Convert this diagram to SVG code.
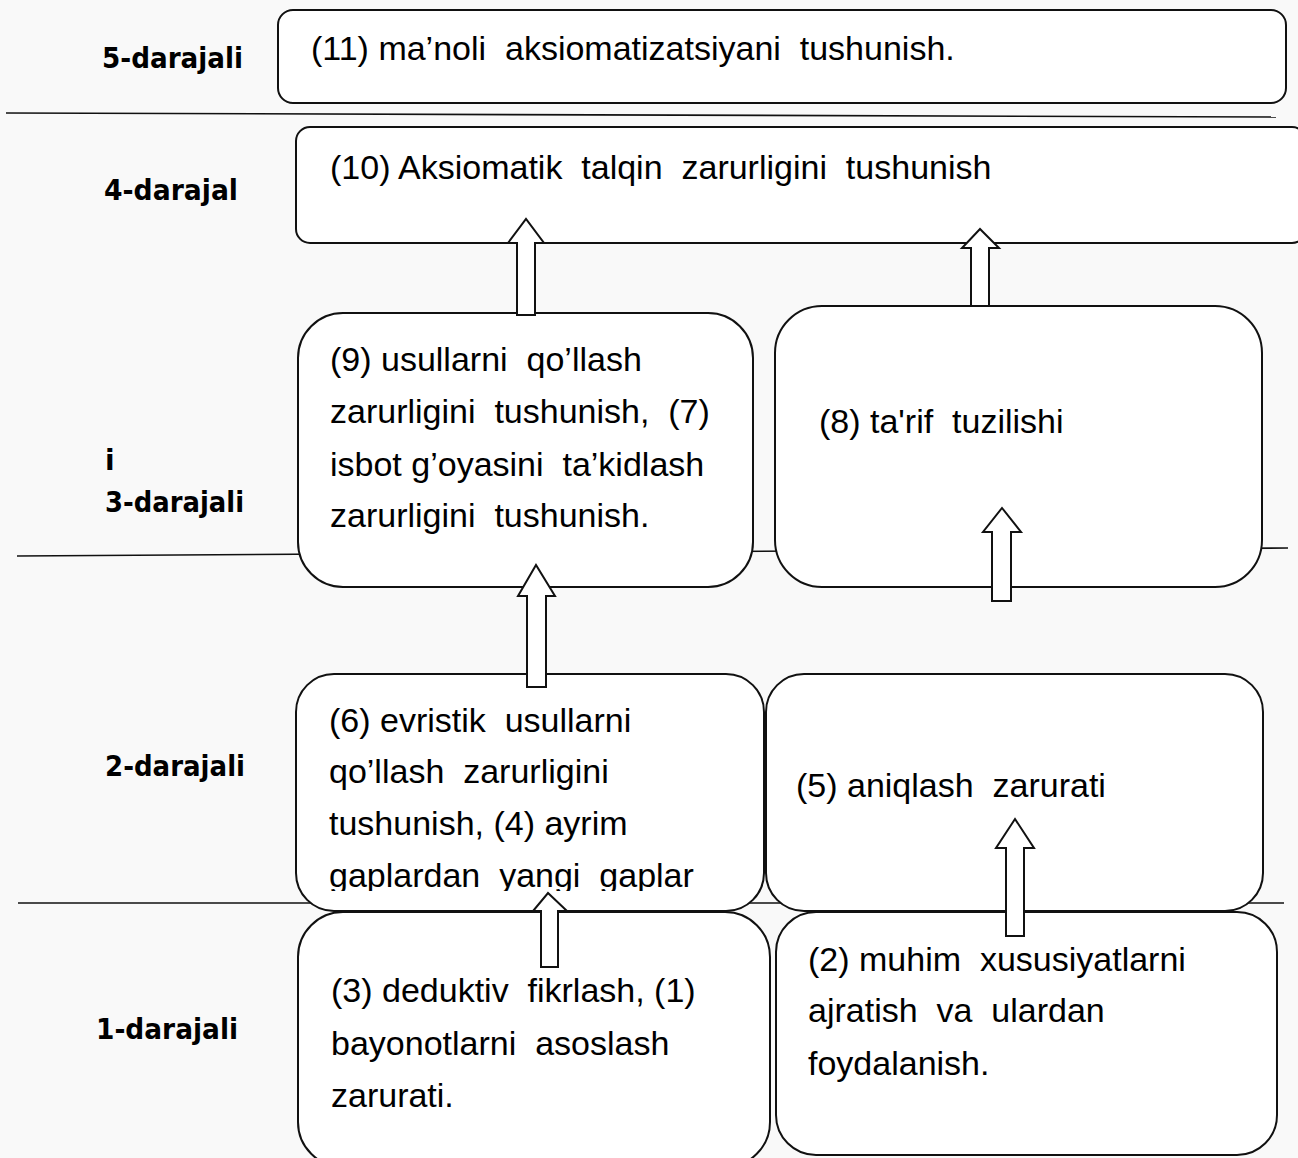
<svg xmlns="http://www.w3.org/2000/svg" width="1298" height="1158" viewBox="0 0 1298 1158">
<style>
.bg{fill:#f9f9f9}
.rule{stroke:#111;stroke-width:1.6;fill:none}
.box{fill:#fff;stroke:#111;stroke-width:2}
.arr{fill:#fff;stroke:#111;stroke-width:2;stroke-linejoin:miter}
.t{font-family:"Liberation Sans",Arial,sans-serif;font-size:34px;fill:#000;white-space:pre}
.lvl{font-family:"DejaVu Sans","Liberation Sans",sans-serif;font-weight:bold;font-size:28px;fill:#000}
</style>
<defs>
<clipPath id="clip6"><rect x="296" y="674" width="470" height="217"/></clipPath>
</defs>
<rect class="bg" x="0" y="0" width="1298" height="1158"/>
<g id="rules">
<line class="rule" x1="6" y1="113" x2="1276" y2="117"/>
<line class="rule" x1="17" y1="556" x2="1288" y2="548"/>
<line class="rule" x1="18" y1="903" x2="1284" y2="903"/>
</g>
<g id="levels">
<text class="lvl" x="102" y="68" textLength="141" lengthAdjust="spacingAndGlyphs">5-darajali</text>
<text class="lvl" x="104" y="200" textLength="134" lengthAdjust="spacingAndGlyphs">4-darajal</text>
<text class="lvl" x="105" y="470">i</text>
<text class="lvl" x="105" y="512" textLength="139" lengthAdjust="spacingAndGlyphs">3-darajali</text>
<text class="lvl" x="105" y="776" textLength="140" lengthAdjust="spacingAndGlyphs">2-darajali</text>
<text class="lvl" x="96" y="1039" textLength="142" lengthAdjust="spacingAndGlyphs">1-darajali</text>
</g>
<g id="node11">
<rect class="box" x="278" y="10" width="1008" height="93" rx="15"/>
<text class="t" x="311" y="60">(11) ma’noli  aksiomatizatsiyani  tushunish.</text>
</g>
<g id="node10">
<rect class="box" x="296" y="127" width="1010" height="116" rx="14"/>
<text class="t" x="330" y="179">(10) Aksiomatik  talqin  zarurligini  tushunish</text>
</g>
<g id="node9">
<rect class="box" x="298" y="313" width="455" height="274" rx="45"/>
<text class="t" x="330" y="371">(9) usullarni  qo’llash</text>
<text class="t" x="330" y="423">zarurligini  tushunish,  (7)</text>
<text class="t" x="330" y="476">isbot g’oyasini  ta’kidlash</text>
<text class="t" x="330" y="527">zarurligini  tushunish.</text>
</g>
<g id="node8">
<rect class="box" x="775" y="306" width="487" height="281" rx="47"/>
<text class="t" x="819" y="433">(8) ta'rif  tuzilishi</text>
</g>
<g id="node6">
<rect class="box" x="296" y="674" width="468" height="237" rx="38"/>
<g clip-path="url(#clip6)">
<text class="t" x="329" y="732">(6) evristik  usullarni</text>
<text class="t" x="329" y="783">qo’llash  zarurligini</text>
<text class="t" x="329" y="835">tushunish, (4) ayrim</text>
<text class="t" x="329" y="887">gaplardan  yangi  gaplar</text>
</g>
</g>
<g id="node5">
<rect class="box" x="766" y="674" width="497" height="237" rx="38"/>
<text class="t" x="796" y="797">(5) aniqlash  zarurati</text>
</g>
<g id="node3">
<rect class="box" x="298" y="912" width="472" height="255" rx="45"/>
<text class="t" x="331" y="1002">(3) deduktiv  fikrlash, (1)</text>
<text class="t" x="331" y="1055">bayonotlarni  asoslash</text>
<text class="t" x="331" y="1107">zarurati.</text>
</g>
<g id="node2">
<rect class="box" x="776" y="912" width="501" height="243" rx="40"/>
<text class="t" x="808" y="971">(2) muhim  xususiyatlarni</text>
<text class="t" x="808" y="1022">ajratish  va  ulardan</text>
<text class="t" x="808" y="1075">foydalanish.</text>
</g>
<g id="connectors">
<polygon class="arr" points="517,315 517,243 508,243 526,219 544,243 535,243 535,315"/>
<polygon class="arr" points="971,306 971,248 962,248 980,229 999,248 989,248 989,306"/>
<polygon class="arr" points="527,687 527,596 518,596 536,565 555,596 546,596 546,687"/>
<polygon class="arr" points="992,601 992,532 983,532 1002,508 1021,532 1011,532 1011,601"/>
<polygon class="arr" points="1006,936 1006,848 996,848 1015,819 1034,848 1024,848 1024,936"/>
<polygon class="arr" points="541,967 541,911 533,911 548,893 567,911 558,911 558,967"/>
</g>
</svg>
